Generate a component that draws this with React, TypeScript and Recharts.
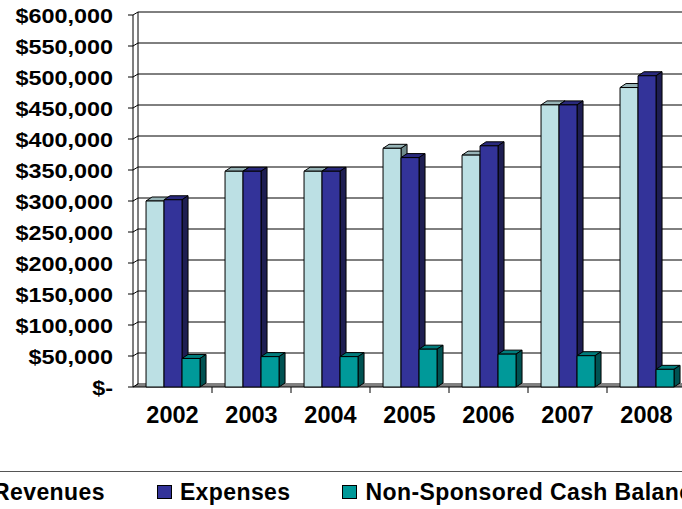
import React from "react";
import { BarChart, Bar, XAxis, YAxis, CartesianGrid } from "recharts";

// ─── Data ────────────────────────────────────────────────────────────────────

const years = ["2002", "2003", "2004", "2005", "2006", "2007", "2008"];
const revenues = [300000, 348000, 348000, 385000, 374000, 455000, 483000];
const expenses = [302000, 348000, 348000, 370000, 389000, 455000, 502000];
const cashBalance = [46000, 49000, 49000, 61000, 53000, 50500, 28500];
const yTicks = [0, 50000, 100000, 150000, 200000, 250000, 300000, 350000, 400000, 450000, 500000, 550000, 600000];
const Y_MAX = 600000;

const data = years.map((y, i) => ({
  year: y,
  revenues: revenues[i],
  expenses: expenses[i],
  cash: cashBalance[i],
}));

// ─── 3D look ─────────────────────────────────────────────────────────────────

const DX = 6; // bar depth offset
const DY = 4;
const WX = 5; // wall depth offset
const WY = 3;
const FONT = "'Liberation Sans', Arial, sans-serif";

const PALETTE = {
  revenues: { front: "#BCE0E4", top: "#97B4B7", side: "#6F8A8C" },
  expenses: { front: "#333399", top: "#29297D", side: "#1E1E52" },
  cash: { front: "#009999", top: "#007C7C", side: "#005252" },
};

function makeBox(colors: { front: string; top: string; side: string }) {
  return (props: any) => {
    const { x, y, width, height } = props;
    if (!height || height <= 0) return null;
    return (
      <g stroke="#000" strokeWidth={1} strokeLinejoin="round">
        <polygon
          points={`${x},${y} ${x + DX},${y - DY} ${x + width + DX},${y - DY} ${x + width},${y}`}
          fill={colors.top}
        />
        <polygon
          points={`${x + width},${y} ${x + width + DX},${y - DY} ${x + width + DX},${y + height - DY} ${x + width},${y + height}`}
          fill={colors.side}
        />
        <rect x={x} y={y} width={width} height={height} fill={colors.front} />
      </g>
    );
  };
}

// ─── Grid (back wall + floor) ────────────────────────────────────────────────

let zeroY = -1;

function gridCoordsY({ offset }: any) {
  zeroY = offset.top + offset.height;
  return yTicks.map((t) => offset.top + offset.height * (1 - t / Y_MAX));
}

function gridCoordsX({ offset }: any) {
  return [offset.left];
}

function HLine(props: any) {
  const { x1, y1, x2 } = props;
  const isFloor = Math.abs(y1 - zeroY) < 0.5;
  return (
    <g key={props.key}>
      {isFloor && (
        <>
          <polygon
            points={`${x1},${y1} ${x1 + WX},${y1 - WY - 1} ${x2 + WX},${y1 - WY - 1} ${x2},${y1}`}
            fill="#808080"
            stroke="none"
          />
          <line x1={x1} y1={y1} x2={x2} y2={y1} stroke="#000" strokeWidth={1} />
        </>
      )}
      {!isFloor && <line x1={x1 + WX} y1={y1 - WY} x2={x2 + WX} y2={y1 - WY} stroke="#000" strokeWidth={1} />}
      <line x1={x1} y1={y1} x2={x1 + WX} y2={y1 - WY} stroke="#000" strokeWidth={1} />
    </g>
  );
}

function VLine(props: any) {
  const { x1, y1, y2 } = props;
  return <line key={props.key} x1={x1 + WX} y1={y1 - WY} x2={x1 + WX} y2={y2 - WY} stroke="#000" strokeWidth={1} />;
}

// ─── Ticks ───────────────────────────────────────────────────────────────────

function fmtMoney(v: number) {
  if (v === 0) return "$-";
  return "$" + v.toLocaleString("en-US");
}

function YTick({ x, y, payload }: any) {
  return (
    <g transform={`translate(${x - 13},${y + 1.5}) scale(1.17,1)`}>
      <text
        x={0}
        y={0}
        textAnchor="end"
        dominantBaseline="central"
        fontFamily={FONT}
        fontWeight="bold"
        fontSize={20}
        fill="#000"
      >
        {fmtMoney(payload.value)}
      </text>
    </g>
  );
}

function XTick({ x, y, payload }: any) {
  const half = payload.offset || 39.5;
  return (
    <g>
      <line x1={x + half} y1={y - 8} x2={x + half} y2={y - 2} stroke="#000" strokeWidth={1} />
      <text
        x={x}
        y={y + 28}
        textAnchor="middle"
        fontFamily={FONT}
        fontWeight="bold"
        fontSize={23.5}
        fill="#000"
      >
        {payload.value}
      </text>
    </g>
  );
}

// ─── Legend ──────────────────────────────────────────────────────────────────

const legendItems = [
  { label: "Revenues", color: PALETTE.revenues.front },
  { label: "Expenses", color: PALETTE.expenses.front },
  { label: "Non-Sponsored Cash Balance", color: PALETTE.cash.front },
];

function ChartLegend() {
  return (
    <>
      <div
        style={{
          position: "absolute",
          left: -10,
          top: 471,
          width: 720,
          height: 60,
          borderTop: "1px solid #555",
        }}
      />
      <div
        style={{
          position: "absolute",
          left: -30,
          top: 480.5,
          display: "flex",
          alignItems: "center",
          gap: 52,
          whiteSpace: "nowrap",
          fontFamily: FONT,
          fontWeight: "bold",
          fontSize: 23,
          letterSpacing: "0.4px",
          lineHeight: "23px",
          color: "#000",
        }}
      >
        {legendItems.map((it) => (
          <div key={it.label} style={{ display: "flex", alignItems: "center", gap: 8 }}>
            <span
              style={{
                display: "inline-block",
                width: 13,
                height: 12,
                background: it.color,
                border: "1px solid #000",
              }}
            />
            <span>{it.label}</span>
          </div>
        ))}
      </div>
    </>
  );
}

// ─── Main ────────────────────────────────────────────────────────────────────

export default function App() {
  return (
    <div
      style={{
        position: "absolute",
        left: 0,
        top: 0,
        width: 682,
        height: 509,
        overflow: "hidden",
        background: "#fff",
      }}
    >
      <BarChart
        width={720}
        height={430}
        data={data}
        margin={{ top: 15, right: 34, left: 0, bottom: 3 }}
        barCategoryGap="16.5%"
        barGap={0}
      >
        <CartesianGrid
          horizontal={HLine as any}
          vertical={VLine as any}
          horizontalCoordinatesGenerator={gridCoordsY as any}
          verticalCoordinatesGenerator={gridCoordsX as any}
          fill="none"
        />
        <XAxis
          dataKey="year"
          height={40}
          axisLine={false}
          tickLine={false}
          tick={<XTick />}
          interval={0}
        />
        <YAxis
          width={133}
          domain={[0, Y_MAX]}
          ticks={yTicks}
          interval={0}
          axisLine={{ stroke: "#000" }}
          tickLine={{ stroke: "#000" }}
          tickSize={5}
          tick={<YTick />}
        />
        <Bar dataKey="revenues" shape={makeBox(PALETTE.revenues)} isAnimationActive={false} />
        <Bar dataKey="expenses" shape={makeBox(PALETTE.expenses)} isAnimationActive={false} />
        <Bar dataKey="cash" shape={makeBox(PALETTE.cash)} isAnimationActive={false} />
      </BarChart>
      <ChartLegend />
    </div>
  );
}
